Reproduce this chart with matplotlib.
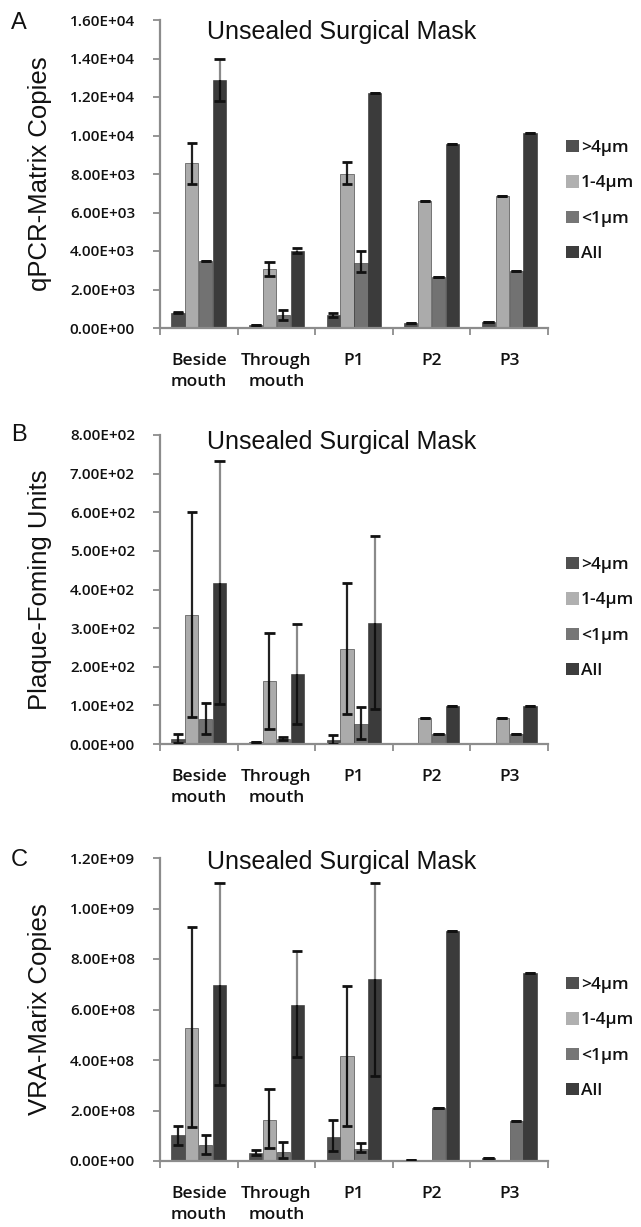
import numpy as np
import matplotlib
matplotlib.use("Agg")
import matplotlib.pyplot as plt
from matplotlib.patches import Patch
from matplotlib.ticker import FuncFormatter, FixedLocator

# ---------------- data ----------------
groups = ["Beside\nmouth", "Through\nmouth", "P1", "P2", "P3"]
series = [">4\u00b5m", "1-4\u00b5m", "<1\u00b5m", "All"]

# Panel A: qPCR-Matrix copies
qpcr_gt4 = [800, 150, 650, 260, 330]
qpcr_mid = [8550, 3050, 8020, 6620, 6850]
qpcr_lt1 = [3480, 690, 3380, 2640, 2970]
qpcr_all = [12900, 4010, 12200, 9580, 10150]
qpcr_gt4_lo = [780, 140, 550, 260, 330]
qpcr_gt4_hi = [820, 160, 800, 260, 330]
qpcr_mid_lo = [7500, 2700, 7500, 6620, 6850]
qpcr_mid_hi = [9600, 3450, 8600, 6620, 6850]
qpcr_lt1_lo = [3480, 430, 2900, 2640, 2970]
qpcr_lt1_hi = [3480, 950, 4000, 2640, 2970]
qpcr_all_lo = [11800, 3900, 12200, 9580, 10150]
qpcr_all_hi = [14000, 4150, 12200, 9580, 10150]

# Panel B: plaque-forming units
pfu_gt4 = [13, 5, 10, 0, 0]
pfu_mid = [335, 162, 245, 68, 68]
pfu_lt1 = [65, 13, 52, 27, 27]
pfu_all = [418, 180, 312, 98, 98]
pfu_gt4_lo = [3, 5, 0, 0, 0]
pfu_gt4_hi = [27, 5, 24, 0, 0]
pfu_mid_lo = [70, 40, 77, 68, 68]
pfu_mid_hi = [600, 287, 418, 68, 68]
pfu_lt1_lo = [25, 10, 12, 27, 27]
pfu_lt1_hi = [107, 17, 95, 27, 27]
pfu_all_lo = [103, 53, 90, 98, 98]
pfu_all_hi = [733, 310, 538, 98, 98]

# Panel C: VRA-Matrix copies
vra_gt4 = [1.02e8, 0.32e8, 0.95e8, 0.05e8, 0.10e8]
vra_mid = [5.27e8, 1.64e8, 4.16e8, 0, 0]
vra_lt1 = [0.62e8, 0.36e8, 0.49e8, 2.08e8, 1.57e8]
vra_all = [6.98e8, 6.17e8, 7.22e8, 9.10e8, 7.45e8]
vra_gt4_lo = [0.65e8, 0.22e8, 0.40e8, 0.05e8, 0.10e8]
vra_gt4_hi = [1.40e8, 0.45e8, 1.62e8, 0.05e8, 0.10e8]
vra_mid_lo = [1.35e8, 0.50e8, 1.40e8, 0, 0]
vra_mid_hi = [9.25e8, 2.85e8, 6.95e8, 0, 0]
vra_lt1_lo = [0.28e8, 0.10e8, 0.35e8, 2.08e8, 1.57e8]
vra_lt1_hi = [1.02e8, 0.75e8, 0.70e8, 2.08e8, 1.57e8]
vra_all_lo = [3.00e8, 4.10e8, 3.35e8, 9.10e8, 7.45e8]
vra_all_hi = [11.0e8, 8.30e8, 11.0e8, 9.10e8, 7.45e8]

# ---------------- style ----------------
bar_colors = ["#4e4e4e", "#ababab", "#727272", "#3b3b3b"]
legend_colors = ["#505050", "#b0b0b0", "#767676", "#3d3d3d"]
upper_err_colors = ["#222222", "#222222", "#222222", "#8a8a8a"]
axis_gray = "#8c8c8c"
tick_font = "Open Sans"
tick_weight = "semibold"
label_font = "Liberation Sans"

W, H = 641, 1227
fig = plt.figure(figsize=(W / 100, H / 100), dpi=100)


def fx(px):
    return px / W


def fy(py):
    return 1 - py / H


panels = [
    dict(letter="A", ylabel="qPCR-Matrix Copies", top=20, bottom=328,
         ymax=1.6e4, ystep=2e3,
         vals=[qpcr_gt4, qpcr_mid, qpcr_lt1, qpcr_all],
         lo=[qpcr_gt4_lo, qpcr_mid_lo, qpcr_lt1_lo, qpcr_all_lo],
         hi=[qpcr_gt4_hi, qpcr_mid_hi, qpcr_lt1_hi, qpcr_all_hi],
         title_y=32, letter_y=23, legend_y=201),
    dict(letter="B", ylabel="Plaque-Foming Units", top=435, bottom=744,
         ymax=800, ystep=100,
         vals=[pfu_gt4, pfu_mid, pfu_lt1, pfu_all],
         lo=[pfu_gt4_lo, pfu_mid_lo, pfu_lt1_lo, pfu_all_lo],
         hi=[pfu_gt4_hi, pfu_mid_hi, pfu_lt1_hi, pfu_all_hi],
         title_y=442, letter_y=435, legend_y=618),
    dict(letter="C", ylabel="VRA-Marix Copies", top=858, bottom=1161,
         ymax=1.2e9, ystep=2e8,
         vals=[vra_gt4, vra_mid, vra_lt1, vra_all],
         lo=[vra_gt4_lo, vra_mid_lo, vra_lt1_lo, vra_all_lo],
         hi=[vra_gt4_hi, vra_mid_hi, vra_lt1_hi, vra_all_hi],
         title_y=862, letter_y=860, legend_y=1038),
]

left_px, right_px = 160, 548
n_groups = len(groups)
bar_w = 0.17
step = 0.178
offsets = (np.arange(len(series)) - 1.5) * step
cap_half = 0.065
x = np.arange(n_groups)

for p in panels:
    ax = fig.add_axes([fx(left_px), fy(p["bottom"]), fx(right_px - left_px),
                       (p["bottom"] - p["top"]) / H])
    for k in range(len(series)):
        xs = x + offsets[k]
        vals = np.array(p["vals"][k], dtype=float)
        lo = np.array(p["lo"][k], dtype=float)
        hi = np.array(p["hi"][k], dtype=float)
        ax.bar(xs, vals, width=bar_w, color=bar_colors[k],
               edgecolor="#2e2e2e", linewidth=0.4, zorder=2)
        show = vals > 0
        # lower half of the error bar
        ax.vlines(xs[show], lo[show], vals[show], color="#111111",
                  linewidth=1.6, zorder=3)
        # upper half of the error bar
        ax.vlines(xs[show], vals[show], hi[show], color=upper_err_colors[k],
                  linewidth=1.6, zorder=3)
        # caps
        ax.hlines(lo[show], xs[show] - cap_half, xs[show] + cap_half,
                  color="#111111", linewidth=2.0, zorder=4)
        ax.hlines(hi[show], xs[show] - cap_half, xs[show] + cap_half,
                  color="#111111", linewidth=2.0, zorder=4)

    ax.set_xlim(-0.5, n_groups - 0.5)
    ax.set_ylim(0, p["ymax"])
    ax.yaxis.set_major_locator(FixedLocator(np.arange(0, p["ymax"] + p["ystep"] / 2, p["ystep"])))
    ax.yaxis.set_major_formatter(FuncFormatter(lambda v, pos: f"{v:.2E}"))
    ax.set_xticks(x)
    ax.set_xticklabels(groups, fontfamily=tick_font, fontsize=12.5,
                       fontweight=tick_weight, linespacing=1.4, color="#111111")
    ax.set_xticks(np.arange(-0.5, n_groups, 1.0), minor=True)
    ax.tick_params(axis="x", which="major", length=0, pad=18)
    ax.tick_params(axis="x", which="minor", length=5, width=1.3,
                   color=axis_gray, direction="out")
    ax.tick_params(axis="y", length=5, width=1.3, color=axis_gray,
                   direction="out", pad=13)
    for lab in ax.get_yticklabels():
        lab.set_fontfamily(tick_font)
        lab.set_fontsize(11)
        lab.set_fontweight(tick_weight)
        lab.set_color("#111111")
    for side in ("top", "right"):
        ax.spines[side].set_visible(False)
    for side in ("left", "bottom"):
        ax.spines[side].set_color(axis_gray)
        ax.spines[side].set_linewidth(1.6)

    mid_y = (p["top"] + p["bottom"]) / 2
    fig.text(fx(40), fy(mid_y), p["ylabel"], rotation=90, ha="center",
             va="center", fontfamily=label_font, fontsize=18.5, color="#111111")
    fig.text(fx(19), fy(p["letter_y"]), p["letter"], ha="center", va="center",
             fontfamily=label_font, fontsize=17, color="#111111")
    fig.text(fx(342), fy(p["title_y"]), "Unsealed Surgical Mask", ha="center",
             va="center", fontfamily=label_font, fontsize=18, color="#111111")

    handles = [Patch(facecolor=c, edgecolor="none") for c in legend_colors]
    fig.legend(handles, series, loc="center left",
               bbox_to_anchor=(fx(566), fy(p["legend_y"])), frameon=False,
               prop={"family": tick_font, "size": 12.5, "weight": tick_weight},
               handlelength=0.72, handleheight=0.72, handletextpad=0.15,
               labelspacing=1.1, borderpad=0, borderaxespad=0,
               labelcolor="#111111")

fig.savefig("out.png", dpi=100, facecolor="white")
